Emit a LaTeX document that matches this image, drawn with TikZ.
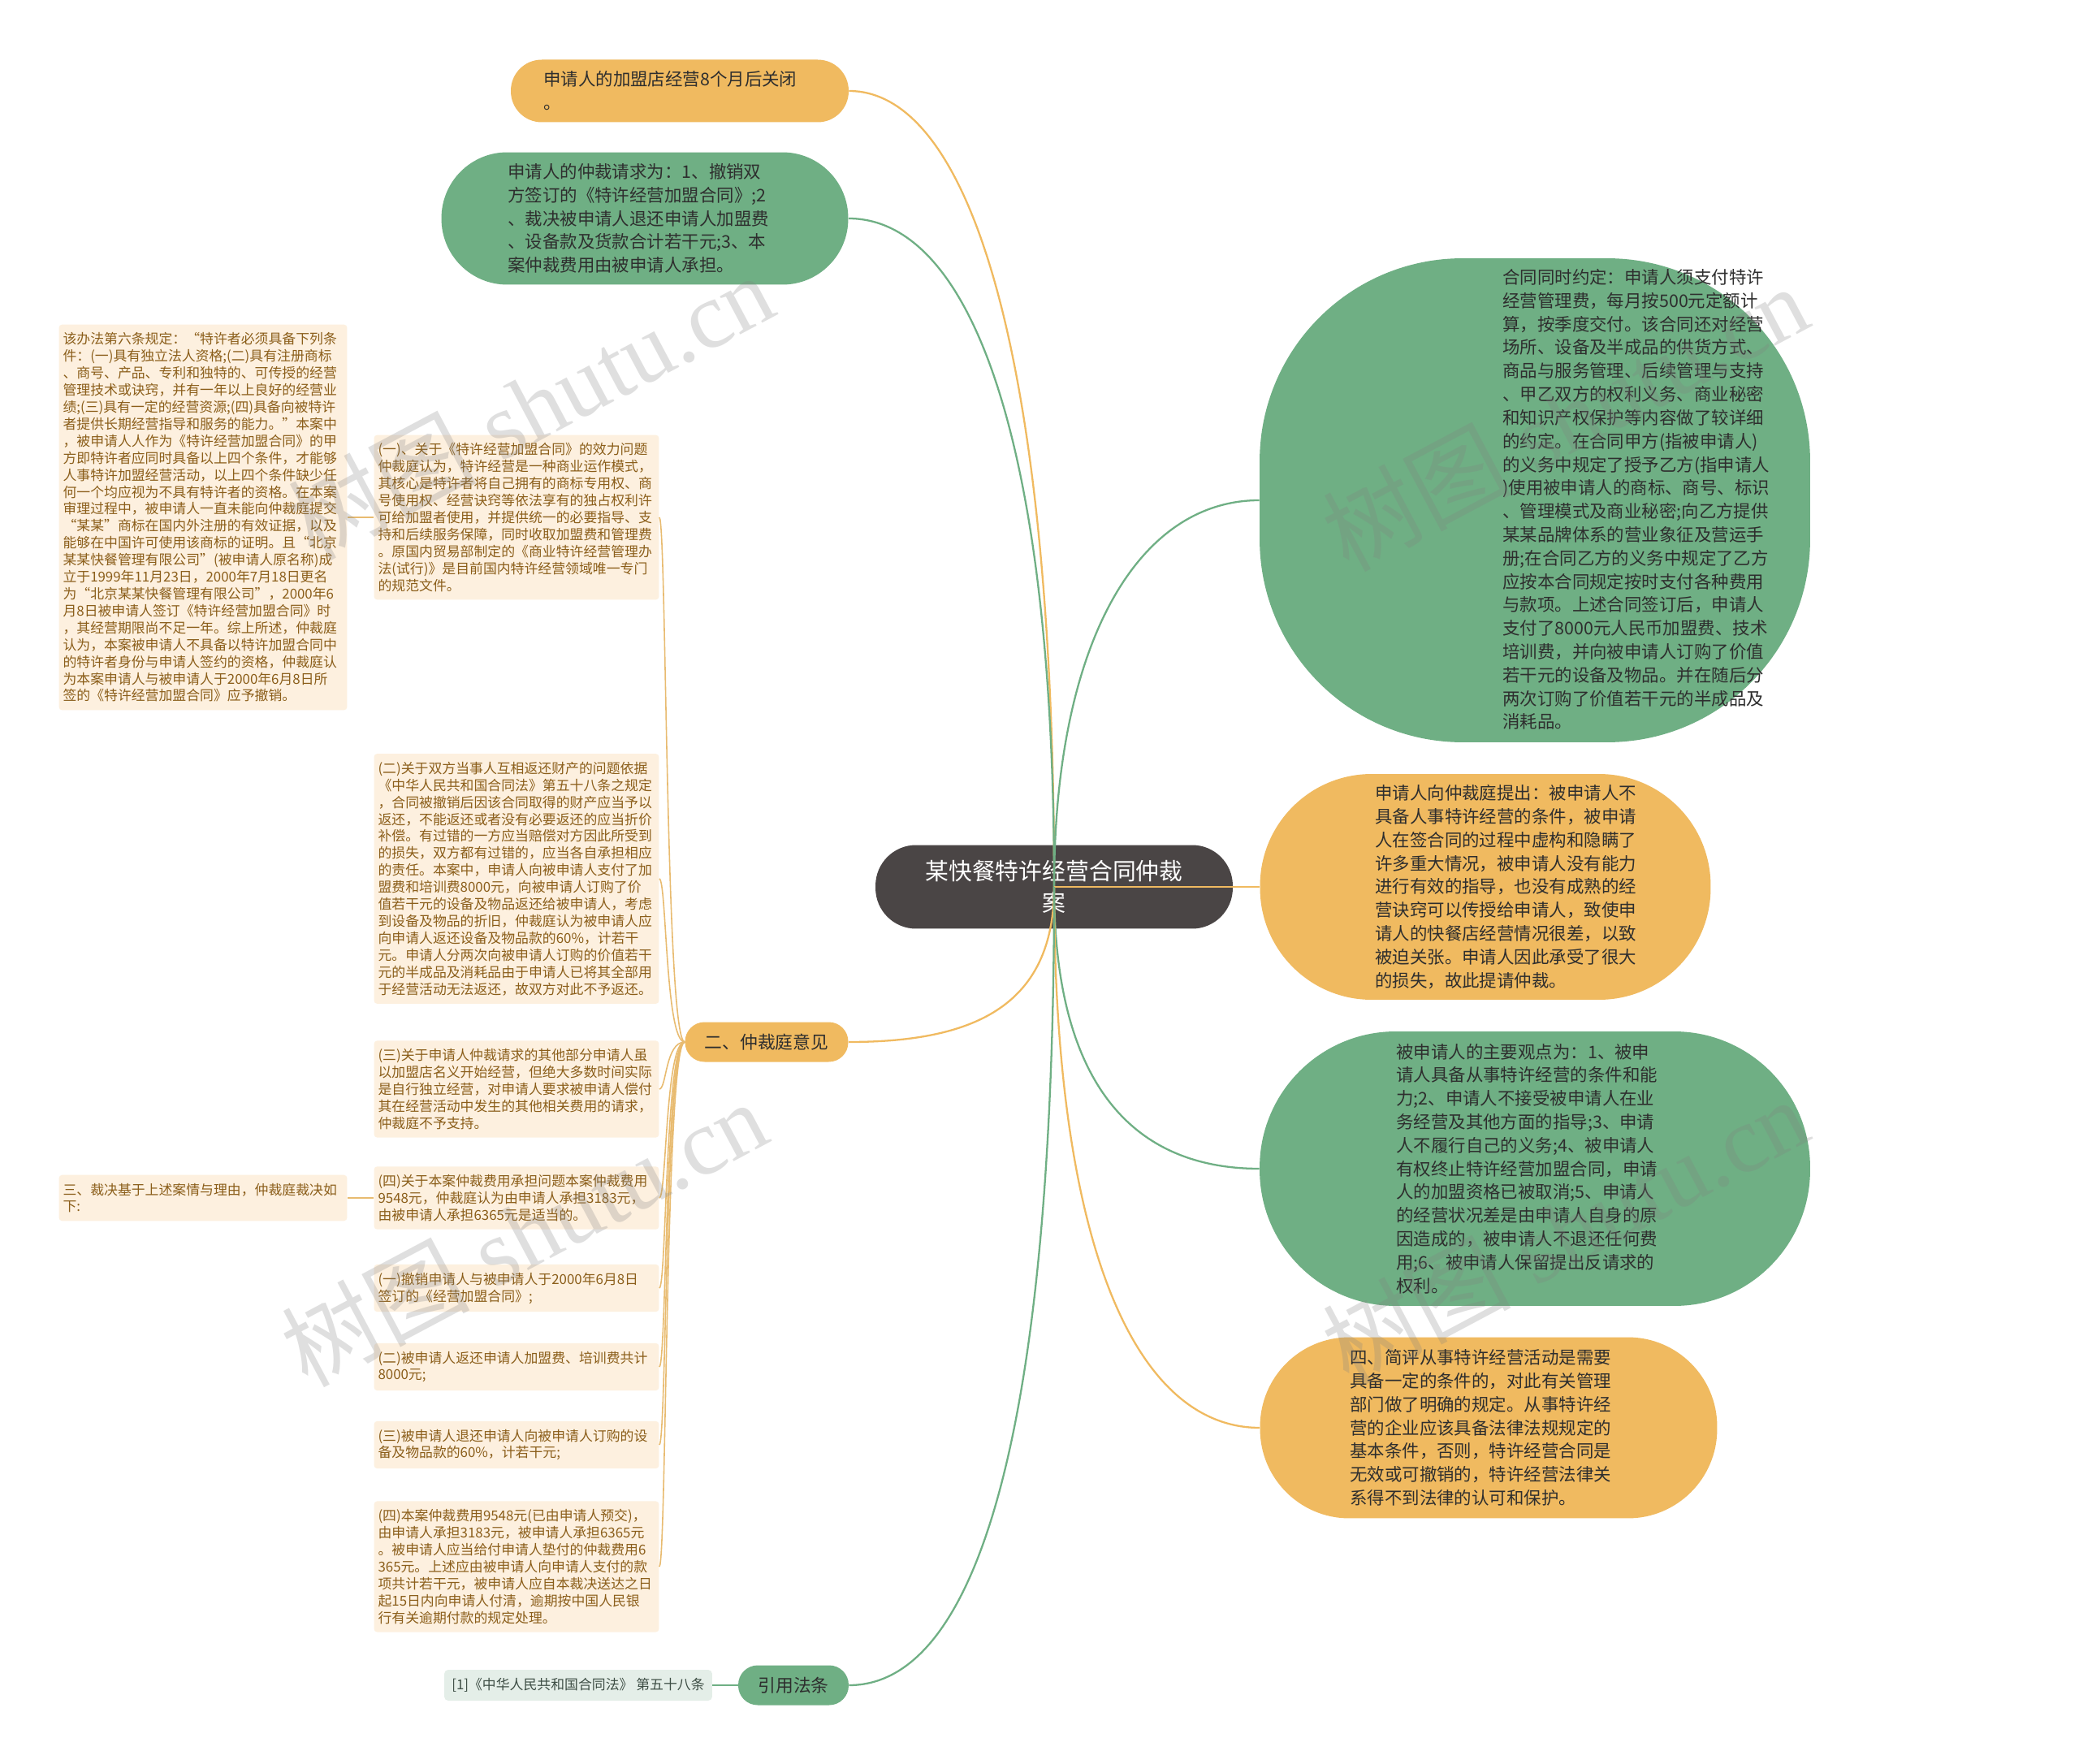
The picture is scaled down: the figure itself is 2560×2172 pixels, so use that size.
\documentclass[tikz,border=0pt]{standalone}
\usepackage{fontspec}
\setmainfont{Noto Sans CJK SC}
\newfontfamily\wmlatin{Liberation Serif}
\newfontfamily\wmcjk{Noto Sans CJK SC}
\definecolor{orangefill}{HTML}{F0BA60}
\definecolor{greenfill}{HTML}{6FAF84}
\definecolor{rootfill}{HTML}{4A4545}
\definecolor{creamfill}{HTML}{FDF0DF}
\definecolor{creamtext}{HTML}{8B5E1A}
\definecolor{reffill}{HTML}{E4EEE8}
\definecolor{reftext}{HTML}{3E4E45}
\definecolor{darktext}{HTML}{2E2E2E}
\definecolor{subcolor}{HTML}{E8BB70}
\begin{document}
\begin{tikzpicture}[x=0.02cm, y=-0.02cm,
    blob/.style={inner sep=0pt},
    maintxt/.style={inner sep=0pt, align=left, text=darktext, font=\fontsize{12.2}{16.4}\selectfont},
    smallbox/.style={fill=creamfill, rounded corners=0.08cm, inner xsep=0.1cm, inner ysep=0.2cm,
        align=left, text=creamtext, font=\fontsize{9.6}{11.9}\selectfont},
    oline/.style={draw=orangefill, line width=1.3pt},
    gline/.style={draw=greenfill, line width=1.3pt},
    subline/.style={draw=subcolor, line width=0.9pt},
    wmark/.style={rotate=28, text=gray, opacity=0.25, font=\wmlatin\fontsize{66}{66}\selectfont}
]
    \useasboundingbox (0,0) rectangle (2560,2172);
    \fill[white] (0,0) rectangle (2560,2172);

    % Right-hand branches
    \node[blob, fill=greenfill, minimum width=13.56cm, minimum height=11.92cm, rounded corners=5cm] (g2) at (1890,616) {};
    \node[maintxt, anchor=west] (g2t) at (1850,615) {合同同时约定：申请人须支付特许\\
经营管理费，每月按500元定额计\\
算，按季度交付。该合同还对经营\\
场所、设备及半成品的供货方式、\\
商品与服务管理、后续管理与支持\\
、甲乙双方的权利义务、商业秘密\\
和知识产权保护等内容做了较详细\\
的约定。在合同甲方(指被申请人)\\
的义务中规定了授予乙方(指申请人\\
)使用被申请人的商标、商号、标识\\
、管理模式及商业秘密;向乙方提供\\
某某品牌体系的营业象征及营运手\\
册;在合同乙方的义务中规定了乙方\\
应按本合同规定按时支付各种费用\\
与款项。上述合同签订后，申请人\\
支付了8000元人民币加盟费、技术\\
培训费，并向被申请人订购了价值\\
若干元的设备及物品。并在随后分\\
两次订购了价值若干元的半成品及\\
消耗品。};

    \node[blob, fill=orangefill, minimum width=11.1cm, minimum height=5.56cm, rounded corners=2.75cm] (o2) at (1829,1092) {};
    \node[maintxt, anchor=west] (o2t) at (1693,1092) {申请人向仲裁庭提出：被申请人不\\
具备人事特许经营的条件，被申请\\
人在签合同的过程中虚构和隐瞒了\\
许多重大情况，被申请人没有能力\\
进行有效的指导，也没有成熟的经\\
营诀窍可以传授给申请人，致使申\\
请人的快餐店经营情况很差，以致\\
被迫关张。申请人因此承受了很大\\
的损失，故此提请仲裁。};

    \node[blob, fill=greenfill, minimum width=13.56cm, minimum height=6.76cm, rounded corners=3.35cm] (g3) at (1890,1439) {};
    \node[maintxt, anchor=west] (g3t) at (1719,1439) {被申请人的主要观点为：1、被申\\
请人具备从事特许经营的条件和能\\
力;2、申请人不接受被申请人在业\\
务经营及其他方面的指导;3、申请\\
人不履行自己的义务;4、被申请人\\
有权终止特许经营加盟合同，申请\\
人的加盟资格已被取消;5、申请人\\
的经营状况差是由申请人自身的原\\
因造成的，被申请人不退还任何费\\
用;6、被申请人保留提出反请求的\\
权利。};

    \node[blob, fill=orangefill, minimum width=11.26cm, minimum height=4.46cm, rounded corners=2.2cm] (o3) at (1833,1758) {};
    \node[maintxt, anchor=west] (o3t) at (1662,1758) {四、简评从事特许经营活动是需要\\
具备一定的条件的，对此有关管理\\
部门做了明确的规定。从事特许经\\
营的企业应该具备法律法规规定的\\
基本条件，否则，特许经营合同是\\
无效或可撤销的，特许经营法律关\\
系得不到法律的认可和保护。};

    % Left-hand branches
    \node[blob, fill=orangefill, minimum width=8.32cm, minimum height=1.54cm, rounded corners=0.76cm] (o1) at (837,112) {};
    \node[maintxt, anchor=west] (o1t) at (669,112) {申请人的加盟店经营8个月后关闭\\。};

    \node[blob, fill=greenfill, minimum width=10.02cm, minimum height=3.26cm, rounded corners=1.62cm] (g1) at (794,269) {};
    \node[maintxt, anchor=west] (g1t) at (625,269) {申请人的仲裁请求为：1、撤销双\\
方签订的《特许经营加盟合同》;2\\
、裁决被申请人退还申请人加盟费\\
、设备款及货款合计若干元;3、本\\
案仲裁费用由被申请人承担。};

    \node[blob, fill=orangefill, minimum width=4.02cm, minimum height=0.98cm, rounded corners=0.48cm,
        text=darktext, font=\fontsize{12.4}{14}\selectfont] (o4) at (944,1283) {二、仲裁庭意见};
    \node[blob, fill=greenfill, minimum width=2.72cm, minimum height=0.98cm, rounded corners=0.48cm,
        text=darktext, font=\fontsize{12.4}{14}\selectfont] (g4) at (977,2075) {引用法条};
    \node[blob, fill=reffill, minimum width=6.6cm, minimum height=0.76cm, rounded corners=0.1cm,
        text=reftext, font=\fontsize{9.6}{11}\selectfont] (ref) at (712,2075) {[1]《中华人民共和国合同法》 第五十八条};

    % Tribunal opinion items
    \node[smallbox, text width=6.82cm] (a) at (636,637) {(一)、关于《特许经营加盟合同》的效力问题\\
仲裁庭认为，特许经营是一种商业运作模式，\\
其核心是特许者将自己拥有的商标专用权、商\\
号使用权、经营诀窍等依法享有的独占权利许\\
可给加盟者使用，并提供统一的必要指导、支\\
持和后续服务保障，同时收取加盟费和管理费\\
。原国内贸易部制定的《商业特许经营管理办\\
法(试行)》是目前国内特许经营领域唯一专门\\
的规范文件。};
    \node[smallbox, text width=6.9cm] (b) at (250,637) {该办法第六条规定：“特许者必须具备下列条\\
件：(一)具有独立法人资格;(二)具有注册商标\\
、商号、产品、专利和独特的、可传授的经营\\
管理技术或诀窍，并有一年以上良好的经营业\\
绩;(三)具有一定的经营资源;(四)具备向被特许\\
者提供长期经营指导和服务的能力。”本案中\\
，被申请人人作为《特许经营加盟合同》的甲\\
方即特许者应同时具备以上四个条件，才能够\\
人事特许加盟经营活动，以上四个条件缺少任\\
何一个均应视为不具有特许者的资格。在本案\\
审理过程中，被申请人一直未能向仲裁庭提交\\
“某某”商标在国内外注册的有效证据，以及\\
能够在中国许可使用该商标的证明。且“北京\\
某某快餐管理有限公司”(被申请人原名称)成\\
立于1999年11月23日，2000年7月18日更名\\
为“北京某某快餐管理有限公司”，2000年6\\
月8日被申请人签订《特许经营加盟合同》时\\
，其经营期限尚不足一年。综上所述，仲裁庭\\
认为，本案被申请人不具备以特许加盟合同中\\
的特许者身份与申请人签约的资格，仲裁庭认\\
为本案申请人与被申请人于2000年6月8日所\\
签的《特许经营加盟合同》应予撤销。};
    \node[smallbox, text width=6.82cm] (c) at (636,1082) {(二)关于双方当事人互相返还财产的问题依据\\
《中华人民共和国合同法》第五十八条之规定\\
，合同被撤销后因该合同取得的财产应当予以\\
返还，不能返还或者没有必要返还的应当折价\\
补偿。有过错的一方应当赔偿对方因此所受到\\
的损失，双方都有过错的，应当各自承担相应\\
的责任。本案中，申请人向被申请人支付了加\\
盟费和培训费8000元，向被申请人订购了价\\
值若干元的设备及物品返还给被申请人，考虑\\
到设备及物品的折旧，仲裁庭认为被申请人应\\
向申请人返还设备及物品款的60\%，计若干\\
元。申请人分两次向被申请人订购的价值若干\\
元的半成品及消耗品由于申请人已将其全部用\\
于经营活动无法返还，故双方对此不予返还。};
    \node[smallbox, text width=6.82cm] (d) at (636,1341) {(三)关于申请人仲裁请求的其他部分申请人虽\\
以加盟店名义开始经营，但绝大多数时间实际\\
是自行独立经营，对申请人要求被申请人偿付\\
其在经营活动中发生的其他相关费用的请求，\\
仲裁庭不予支持。};
    \node[smallbox, text width=6.82cm] (e) at (636,1475) {(四)关于本案仲裁费用承担问题本案仲裁费用\\
9548元，仲裁庭认为由申请人承担3183元，\\
由被申请人承担6365元是适当的。};
    \node[smallbox, text width=6.9cm] (f) at (250,1475) {三、裁决基于上述案情与理由，仲裁庭裁决如\\
下:};
    \node[smallbox, text width=6.82cm] (g) at (636,1586) {(一)撤销申请人与被申请人于2000年6月8日\\
签订的《经营加盟合同》;};
    \node[smallbox, text width=6.82cm] (h) at (636,1683) {(二)被申请人返还申请人加盟费、培训费共计\\
8000元;};
    \node[smallbox, text width=6.82cm] (i) at (636,1779) {(三)被申请人退还申请人向被申请人订购的设\\
备及物品款的60\%，计若干元;};
    \node[smallbox, text width=6.82cm] (j) at (636,1929) {(四)本案仲裁费用9548元(已由申请人预交)，\\
由申请人承担3183元，被申请人承担6365元\\
。被申请人应当给付申请人垫付的仲裁费用6\\
365元。上述应由被申请人向申请人支付的款\\
项共计若干元，被申请人应自本裁决送达之日\\
起15日内向申请人付清，逾期按中国人民银\\
行有关逾期付款的规定处理。};

    % Root
    \node[blob, fill=rootfill, minimum width=8.8cm, minimum height=2.06cm, rounded corners=1cm,
        align=center, text=white, font=\fontsize{16.4}{22}\selectfont] (root) at (1298,1092) {某快餐特许经营合同仲裁\\案};

    % Connectors
    \draw[oline] (root.center) .. controls +(0,-650) and +(150,0) .. (o1.east);
    \draw[gline] (root.center) .. controls +(0,-550) and +(150,0) .. (g1.east);
    \draw[gline] (root.center) .. controls +(0,-300) and +(-150,0) .. (g2.west);
    \draw[oline] (root.center) -- (o2.west);
    \draw[gline] (root.center) .. controls +(0,250) and +(-150,0) .. (g3.west);
    \draw[oline] (root.center) .. controls +(0,450) and +(-150,0) .. (o3.west);
    \draw[oline] (root.center) .. controls +(0,150) and +(150,0) .. (o4.east);
    \draw[gline] (root.center) .. controls +(0,700) and +(150,0) .. (g4.east);

    \foreach \n in {a,c,d,e,g,h,i,j}
        \draw[subline] (o4.west) .. controls +(-24,0) and +(9,0) .. (\n.east);
    \draw[subline] (a.west) -- (b.east);
    \draw[subline] (e.west) -- (f.east);
    \draw[draw=greenfill, line width=0.9pt] (g4.west) -- (ref.east);

    % Watermarks
    \node[wmark] (wm1) at (653,500) {{\wmcjk 树图} shutu.cn};
    \node[wmark] (wm2) at (645,1518) {{\wmcjk 树图} shutu.cn};
    \node[wmark] (wm3) at (1927,514) {{\wmcjk 树图} shutu.cn};
    \node[wmark] (wm4) at (1927,1515) {{\wmcjk 树图} shutu.cn};
\end{tikzpicture}
\end{document}
